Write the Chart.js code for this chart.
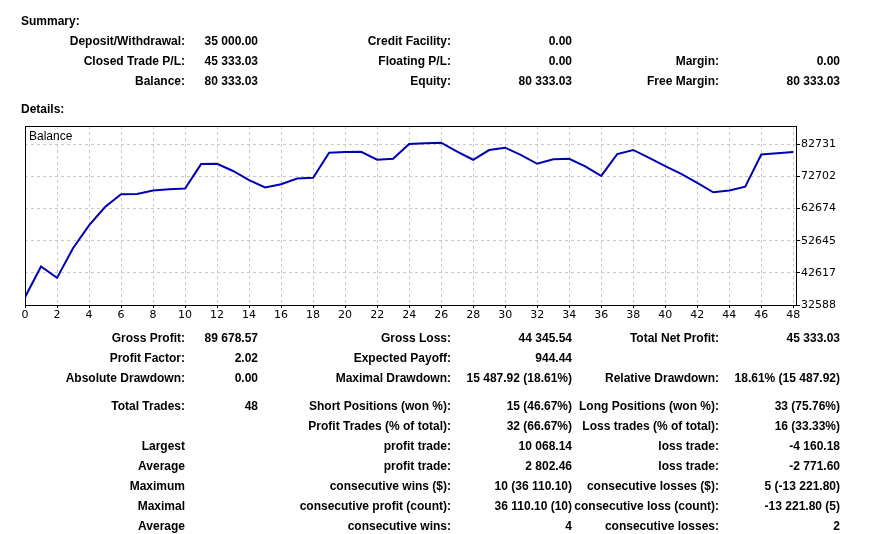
<!DOCTYPE html>
<html>
<head>
<meta charset="utf-8">
<script src="https://cdn.jsdelivr.net/npm/chart.js@4.4.1/dist/chart.umd.min.js"></script>
<style>
  body { margin: 0; background: #fff; }
  #page { position: relative; width: 879px; height: 534px; overflow: hidden; }
  #balanceChart { position: absolute; left: 0; top: 0; }
  .t { position: absolute; font: bold 12px "Liberation Sans", Arial, sans-serif; color: #000; line-height: 14px; white-space: nowrap; }
  .r { text-align: right; }
  .plain { font-weight: normal; }
</style>
</head>
<body>
<div id="page">
  <canvas id="balanceChart" width="879" height="534"></canvas>
</div>
<script>
// trade numbers and balance after each trade
const tradeNo = [0,1,2,3,4,5,6,7,8,9,10,11,12,13,14,15,16,17,18,19,20,21,22,23,24,
                 25,26,27,28,29,30,31,32,33,34,35,36,37,38,39,40,41,42,43,44,45,46,47,48];
const balance = [35000, 44590, 41049, 50325, 57440, 63175, 67155, 67250, 68315, 68720,
                 68941, 76557, 76650, 74400, 71543, 69255, 70289, 72075, 72263, 80099,
                 80318, 80412, 77905, 78218, 82825, 83044, 83238, 80412, 77905, 80945,
                 81666, 79378, 76651, 78030, 78218, 75836, 72890, 79691, 80972, 78500,
                 75900, 73500, 70700, 67750, 68300, 69500, 79568, 79911, 80333];
const xTicks = [0,2,4,6,8,10,12,14,16,18,20,22,24,26,28,30,32,34,36,38,40,42,44,46,48];
const yTicks = [32588, 42617, 52645, 62674, 72702, 82731];

// report text rows
const summaryRows = [
  ['Deposit/Withdrawal:', '35 000.00', 'Credit Facility:', '0.00', '', ''],
  ['Closed Trade P/L:', '45 333.03', 'Floating P/L:', '0.00', 'Margin:', '0.00'],
  ['Balance:', '80 333.03', 'Equity:', '80 333.03', 'Free Margin:', '80 333.03']
];
const detailRows = [
  ['Gross Profit:', '89 678.57', 'Gross Loss:', '44 345.54', 'Total Net Profit:', '45 333.03'],
  ['Profit Factor:', '2.02', 'Expected Payoff:', '944.44', '', ''],
  ['Absolute Drawdown:', '0.00', 'Maximal Drawdown:', '15 487.92 (18.61%)', 'Relative Drawdown:', '18.61% (15 487.92)'],
  ['Total Trades:', '48', 'Short Positions (won %):', '15 (46.67%)', 'Long Positions (won %):', '33 (75.76%)'],
  ['', '', 'Profit Trades (% of total):', '32 (66.67%)', 'Loss trades (% of total):', '16 (33.33%)'],
  ['Largest', '', 'profit trade:', '10 068.14', 'loss trade:', '-4 160.18'],
  ['Average', '', 'profit trade:', '2 802.46', 'loss trade:', '-2 771.60'],
  ['Maximum', '', 'consecutive wins ($):', '10 (36 110.10)', 'consecutive losses ($):', '5 (-13 221.80)'],
  ['Maximal', '', 'consecutive profit (count):', '36 110.10 (10)', 'consecutive loss (count):', '-13 221.80 (5)'],
  ['Average', '', 'consecutive wins:', '4', 'consecutive losses:', '2']
];

const page = document.getElementById('page');
const colRight = [185, 258, 451, 572, 719, 840];

function addText(txt, x, yc, right, cls) {
  let d = document.createElement('div');
  d.className = 't' + (cls ? ' ' + cls : '');
  d.textContent = txt;
  d.style.top = (yc - 7) + 'px';
  if (right) { d.style.right = (879 - x) + 'px'; d.classList.add('r'); }
  else d.style.left = x + 'px';
  page.appendChild(d);
}

function addRows(rows, yStart) {
  rows.forEach((row, i) => {
    let yc = yStart[i];
    row.forEach((cell, c) => {
      if (cell) addText(cell, colRight[c], yc, true);
    });
  });
}

addText('Summary:', 21, 21, false);
addText('Details:', 21, 109, false);
addRows(summaryRows, [41, 61, 81]);
addRows(detailRows, [338, 358, 378, 406, 426, 446, 466, 486, 506, 526]);
addText('Balance', 29, 136, false, 'plain');

const frame = {
  id: 'frame',
  afterDraw(chart) {
    let a = chart.chartArea, ctx = chart.ctx;
    ctx.save();
    ctx.strokeStyle = '#000';
    ctx.lineWidth = 1;
    ctx.strokeRect(Math.round(a.left) + 0.5, Math.round(a.top) + 0.5,
                   Math.round(a.right - a.left), Math.round(a.bottom - a.top));
    ctx.restore();
  }
};

let ctx = document.getElementById('balanceChart').getContext('2d');
new Chart(ctx, {
  type: 'line',
  data: {
    datasets: [{
      label: 'Balance',
      data: tradeNo.map((n, i) => ({ x: n, y: balance[i] })),
      borderColor: '#0000b4',
      borderWidth: 2,
      pointRadius: 0,
      tension: 0,
      fill: false
    }]
  },
  options: {
    responsive: false,
    animation: false,
    layout: { padding: { left: 25, top: 126, right: 33, bottom: 209 } },
    plugins: { legend: { display: false }, tooltip: { enabled: false } },
    scales: {
      x: {
        type: 'linear',
        min: 0,
        max: 48.17,
        afterBuildTicks: s => { s.ticks = xTicks.map(v => ({ value: v })); },
        afterFit: s => { s.height = 20; },
        border: { display: false, dash: [3, 3] },
        grid: { color: '#c8c8c8', lineWidth: 1, tickLength: 3, tickColor: '#000', tickBorderDash: [] },
        ticks: {
          color: '#000', padding: 1, maxRotation: 0, autoSkip: false,
          font: { family: 'DejaVu Sans', size: 11 }
        }
      },
      y: {
        position: 'right',
        min: 32588,
        max: 88441,
        afterBuildTicks: s => { s.ticks = yTicks.map(v => ({ value: v })); },
        afterFit: s => { s.width = 50; },
        border: { display: false, dash: [3, 3] },
        grid: { color: '#c8c8c8', lineWidth: 1, tickLength: 4, tickColor: '#000', tickBorderDash: [] },
        ticks: {
          color: '#000', padding: 1,
          font: { family: 'DejaVu Sans', size: 11 },
          callback: v => String(v)
        }
      }
    }
  },
  plugins: [frame]
});
</script>
</body>
</html>
